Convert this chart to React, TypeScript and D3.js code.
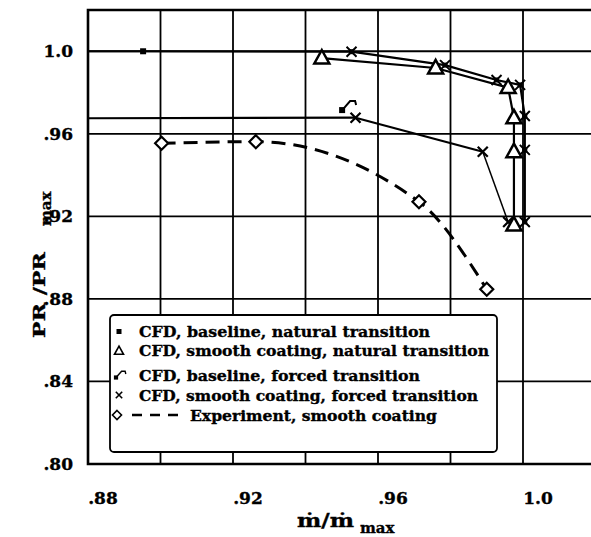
import React from 'react';
import * as d3 from 'd3';

// ---- data ----
const xTickValues = [0.88, 0.92, 0.96, 1.0];
const xTickLabels = ['.88', '.92', '.96', '1.0'];
const yTickValues = [0.8, 0.84, 0.88, 0.92, 0.96, 1.0];
const yTickLabels = ['.80', '.84', '.88', '.92', '.96', '1.0'];
const xGridValues = [0.9, 0.92, 0.94, 0.96, 0.98, 1.0];
const yGridValues = [0.84, 0.88, 0.92, 0.96, 1.0];

// CFD, baseline, natural transition (line enters from the left of the frame)
const baselineNaturalX = [0.87, 0.8952, 0.9527, 0.9785, 0.9927, 0.9992, 1.0005, 1.0005, 1.0005];
const baselineNaturalY = [1.0, 1.0, 0.9998, 0.9933, 0.9861, 0.9837, 0.9686, 0.9522, 0.9173];

// CFD, smooth coating, natural transition
const smoothNaturalX = [0.9445, 0.9759, 0.9959, 0.9975, 0.9975, 0.9975];
const smoothNaturalY = [0.9967, 0.9919, 0.9824, 0.9677, 0.9513, 0.9158];

// CFD, baseline, forced transition
const baselineForcedLineX = [0.87, 0.9538];
const baselineForcedLineY = [0.9675, 0.9678];
const baselineForcedMarkX = [0.9501];
const baselineForcedMarkY = [0.9715];

// CFD, smooth coating, forced transition
const smoothForcedX = [0.9538, 0.9889, 0.9959];
const smoothForcedY = [0.9678, 0.9513, 0.9173];

// Experiment, smooth coating
const experimentX = [0.9003, 0.9263, 0.9713, 0.99];
const experimentY = [0.9554, 0.9562, 0.9271, 0.8847];

const legendLabels = [
  'CFD, baseline, natural transition',
  'CFD, smooth coating, natural transition',
  'CFD, baseline, forced transition',
  'CFD, smooth coating, forced transition',
  'Experiment, smooth coating',
];

const W = 591;
const H = 537;
const FONT = "'DejaVu Serif', serif";

const x = d3.scaleLinear().domain([0.88, 1.02]).range([88, 595.5]);
const y = d3.scaleLinear().domain([0.8, 1.02]).range([464, 10]);

const zip = (xs: number[], ys: number[]) => xs.map((v, i) => [v, ys[i]] as [number, number]);

const line = d3
  .line<[number, number]>()
  .x((d) => x(d[0]))
  .y((d) => y(d[1]));
const curve = d3
  .line<[number, number]>()
  .x((d) => x(d[0]))
  .y((d) => y(d[1]))
  .curve(d3.curveMonotoneX);

function Square({ cx, cy, s }: { cx: number; cy: number; s: number }) {
  return <rect x={cx - s / 2} y={cy - s / 2} width={s} height={s} fill="#000" />;
}
function Tri({ cx, cy, s, sw }: { cx: number; cy: number; s: number; sw: number }) {
  const h = s * 0.9;
  const d = `M${cx},${cy - h * 0.6}L${cx + s / 2},${cy + h * 0.4}L${cx - s / 2},${cy + h * 0.4}Z`;
  return <path d={d} fill="#fff" stroke="#000" strokeWidth={sw} strokeLinejoin="miter" />;
}
function XMark({ cx, cy, r, sw }: { cx: number; cy: number; r: number; sw: number }) {
  return (
    <path
      d={`M${cx - r},${cy - r}L${cx + r},${cy + r}M${cx - r},${cy + r}L${cx + r},${cy - r}`}
      stroke="#000"
      strokeWidth={sw}
      fill="none"
    />
  );
}
function Diamond({ cx, cy, r, sw }: { cx: number; cy: number; r: number; sw: number }) {
  return (
    <path
      d={`M${cx},${cy - r}L${cx + r},${cy}L${cx},${cy + r}L${cx - r},${cy}Z`}
      fill="#fff"
      stroke="#000"
      strokeWidth={sw}
    />
  );
}
function Flag({ cx, cy, k }: { cx: number; cy: number; k: number }) {
  return (
    <g>
      <rect x={cx - 3 * k} y={cy - 3 * k} width={6 * k} height={6 * k} fill="#000" />
      <path
        d={`M${cx + 1 * k},${cy - 1 * k}L${cx + 8 * k},${cy - 9 * k}L${cx + 13 * k},${cy - 9 * k}L${cx + 14 * k},${cy - 5 * k}`}
        stroke="#000"
        strokeWidth={2 * k}
        fill="none"
      />
    </g>
  );
}

export default function App() {
  const x0 = x(0.88);
  const x1 = x(1.02);
  const y0 = y(0.8);
  const y1 = y(1.02);

  const bn = zip(baselineNaturalX, baselineNaturalY);
  const sn = zip(smoothNaturalX, smoothNaturalY);
  const bfl = zip(baselineForcedLineX, baselineForcedLineY);
  const bfm = zip(baselineForcedMarkX, baselineForcedMarkY);
  const sf = zip(smoothForcedX, smoothForcedY);
  const ex = zip(experimentX, experimentY);

  const legendRowsY = [331.5, 350, 375.5, 395, 415];
  const legendTextX = [139, 139, 139, 139, 190];
  const legendTextW = [291, 350, 281, 339, 247];

  const textStyle = { stroke: '#000', strokeWidth: 0.35 };

  return (
    <svg
      width={W}
      height={H}
      style={{ position: 'absolute', left: 0, top: 0, background: '#fff' }}
      fontFamily={FONT}
      fontWeight="bold"
    >
      <defs>
        <clipPath id="plot">
          <rect x={x0} y={y1} width={x1 - x0} height={y0 - y1} />
        </clipPath>
      </defs>
      <rect x={0} y={0} width={W} height={H} fill="#fff" />

      {/* grid */}
      {xGridValues.map((v) => (
        <line key={'gx' + v} x1={x(v)} x2={x(v)} y1={y1} y2={y0} stroke="#000" strokeWidth={1.8} />
      ))}
      {yGridValues.map((v) => (
        <line key={'gy' + v} x1={x0} x2={x1} y1={y(v)} y2={y(v)} stroke="#000" strokeWidth={1.8} />
      ))}

      {/* data */}
      <g clipPath="url(#plot)">
        <path d={line(bn) || ''} fill="none" stroke="#000" strokeWidth={2.2} />
        <path d={line(sn) || ''} fill="none" stroke="#000" strokeWidth={2.2} />
        <path d={line(bfl) || ''} fill="none" stroke="#000" strokeWidth={2.2} />
        <path d={line(sf.slice(0, 2)) || ''} fill="none" stroke="#000" strokeWidth={2.2} />
        <path d={line(sf.slice(1)) || ''} fill="none" stroke="#000" strokeWidth={1.5} />
        <path
          d={curve(ex) || ''}
          fill="none"
          stroke="#000"
          strokeWidth={3}
          strokeDasharray="14,8"
        />

        {ex.map((d, i) => (
          <Diamond key={'ex' + i} cx={x(d[0])} cy={y(d[1])} r={6.5} sw={2.2} />
        ))}
        {sf.map((d, i) => (
          <XMark key={'sf' + i} cx={x(d[0])} cy={y(d[1])} r={5} sw={2.2} />
        ))}
        {bfm.map((d, i) => (
          <Flag key={'bf' + i} cx={x(d[0])} cy={y(d[1])} k={1} />
        ))}
        {sn.map((d, i) => (
          <Tri key={'sn' + i} cx={x(d[0])} cy={y(d[1])} s={15} sw={2.5} />
        ))}
        {bn.map((d, i) =>
          i === 1 ? (
            <Square key={'bn' + i} cx={x(d[0])} cy={y(d[1])} s={6} />
          ) : (
            <g key={'bn' + i}>
              <Square cx={x(d[0])} cy={y(d[1])} s={5} />
              <XMark cx={x(d[0])} cy={y(d[1])} r={5} sw={2} />
            </g>
          )
        )}
      </g>

      {/* legend */}
      <rect x={110} y={315} width={387} height={137} rx={4} fill="#fff" stroke="#000" strokeWidth={1.8} />
      <Square cx={119} cy={legendRowsY[0]} s={5} />
      <Tri cx={119} cy={legendRowsY[1] + 1} s={9} sw={1.6} />
      <Flag cx={116} cy={legendRowsY[2] + 2} k={0.7} />
      <XMark cx={119} cy={legendRowsY[3]} r={3.2} sw={1.6} />
      <Diamond cx={117} cy={legendRowsY[4]} r={4.5} sw={1.6} />
      <path
        d={`M132,${legendRowsY[4]}L178,${legendRowsY[4]}`}
        stroke="#000"
        strokeWidth={2.6}
        strokeDasharray="10,8"
      />
      {legendLabels.map((t, i) => (
        <text
          key={'lg' + i}
          x={legendTextX[i]}
          y={legendRowsY[i] + 5.5}
          fontSize={15}
          fill="#000"
          textLength={legendTextW[i]}
          lengthAdjust="spacingAndGlyphs"
          style={textStyle}
        >
          {t}
        </text>
      ))}

      {/* frame */}
      <path
        d={`M${x1},${y1}L${x0},${y1}L${x0},${y0}L${x1},${y0}`}
        fill="none"
        stroke="#000"
        strokeWidth={2.6}
      />

      {/* tick labels */}
      {yTickValues.map((v, i) => (
        <text
          key={'yt' + v}
          x={x0 - 15}
          y={y(v) + 6}
          textAnchor="end"
          fontSize={17}
          fill="#000"
          style={textStyle}
        >
          {yTickLabels[i]}
        </text>
      ))}
      {xTickValues.map((v, i) => (
        <text
          key={'xt' + v}
          x={x(v) + 15}
          y={504}
          textAnchor="middle"
          fontSize={17}
          fill="#000"
          style={textStyle}
        >
          {xTickLabels[i]}
        </text>
      ))}

      {/* axis titles */}
      <text x={297} y={527} fontSize={18} fill="#000" textLength={57} lengthAdjust="spacingAndGlyphs" style={textStyle}>
        ṁ/ṁ
      </text>
      <text x={360} y={533} fontSize={15} fill="#000" style={textStyle}>
        max
      </text>
      <g transform="translate(45,0) rotate(-90)">
        <text x={-338} y={0} fontSize={17} fill="#000" textLength={86} lengthAdjust="spacingAndGlyphs" style={textStyle}>
          PR /PR
        </text>
        <text x={-226} y={6} fontSize={15} fill="#000" style={textStyle}>
          max
        </text>
      </g>
    </svg>
  );
}
